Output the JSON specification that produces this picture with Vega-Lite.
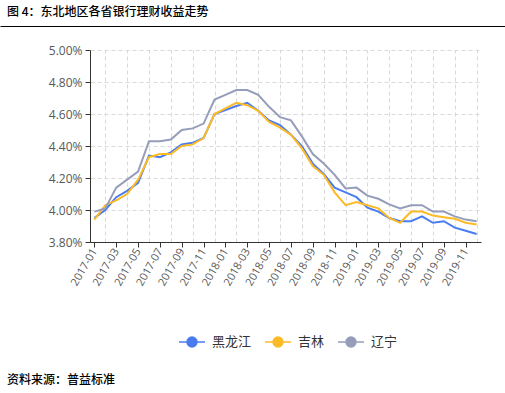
{
  "$schema": "https://vega.github.io/schema/vega-lite/v6.json",
  "background": "white",
  "padding": {"left": 0, "right": 0, "top": 5, "bottom": 0},
  "columns": 1,
  "spacing": 15,
  "resolve": {"scale": {"color": "shared"}},
  "config": {
    "view": {"stroke": null},
    "axis": {"labelFont": "Open Sans", "labelColor": "#595959", "domainColor": "#333333", "tickColor": "#333333", "gridColor": "#d9d9d9", "gridDash": [4, 3], "title": null, "labelOverlap": false},
    "title": {"font": "Noto Sans CJK SC", "fontSize": 12, "color": "#000000", "fontWeight": 500, "anchor": "start", "frame": "group"}
  },
  "concat": [
    {
      "title": {"text": "图 4：东北地区各省银行理财收益走势", "dx": -83, "offset": 4},
      "width": 505,
      "height": 1,
      "data": {"values": [{"v": 0}]},
      "mark": {"type": "point", "opacity": 0},
      "encoding": {
        "x": {"field": "v", "type": "quantitative", "scale": {"domain": [0, 1]},
          "axis": {"orient": "bottom", "position": -90, "labels": false, "ticks": false, "grid": false, "domainColor": "#000000", "domainWidth": 1}}
      }
    },
    {
      "title": {"text": "资料来源：普益标准", "orient": "bottom", "dx": -83, "offset": 88},
      "width": 391,
      "height": 192,
      "data": {"values": [
        {"month": "2017-01", "region": "黑龙江", "value": 3.95}, {"month": "2017-01", "region": "吉林", "value": 3.94}, {"month": "2017-01", "region": "辽宁", "value": 3.99},
        {"month": "2017-02", "region": "黑龙江", "value": 4.00}, {"month": "2017-02", "region": "吉林", "value": 4.03}, {"month": "2017-02", "region": "辽宁", "value": 4.01},
        {"month": "2017-03", "region": "黑龙江", "value": 4.08}, {"month": "2017-03", "region": "吉林", "value": 4.06}, {"month": "2017-03", "region": "辽宁", "value": 4.14},
        {"month": "2017-04", "region": "黑龙江", "value": 4.12}, {"month": "2017-04", "region": "吉林", "value": 4.10}, {"month": "2017-04", "region": "辽宁", "value": 4.19},
        {"month": "2017-05", "region": "黑龙江", "value": 4.17}, {"month": "2017-05", "region": "吉林", "value": 4.19}, {"month": "2017-05", "region": "辽宁", "value": 4.24},
        {"month": "2017-06", "region": "黑龙江", "value": 4.34}, {"month": "2017-06", "region": "吉林", "value": 4.33}, {"month": "2017-06", "region": "辽宁", "value": 4.43},
        {"month": "2017-07", "region": "黑龙江", "value": 4.33}, {"month": "2017-07", "region": "吉林", "value": 4.35}, {"month": "2017-07", "region": "辽宁", "value": 4.43},
        {"month": "2017-08", "region": "黑龙江", "value": 4.36}, {"month": "2017-08", "region": "吉林", "value": 4.35}, {"month": "2017-08", "region": "辽宁", "value": 4.44},
        {"month": "2017-09", "region": "黑龙江", "value": 4.41}, {"month": "2017-09", "region": "吉林", "value": 4.40}, {"month": "2017-09", "region": "辽宁", "value": 4.50},
        {"month": "2017-10", "region": "黑龙江", "value": 4.42}, {"month": "2017-10", "region": "吉林", "value": 4.41}, {"month": "2017-10", "region": "辽宁", "value": 4.51},
        {"month": "2017-11", "region": "黑龙江", "value": 4.45}, {"month": "2017-11", "region": "吉林", "value": 4.45}, {"month": "2017-11", "region": "辽宁", "value": 4.54},
        {"month": "2017-12", "region": "黑龙江", "value": 4.60}, {"month": "2017-12", "region": "吉林", "value": 4.60}, {"month": "2017-12", "region": "辽宁", "value": 4.69},
        {"month": "2018-01", "region": "黑龙江", "value": 4.625}, {"month": "2018-01", "region": "吉林", "value": 4.635}, {"month": "2018-01", "region": "辽宁", "value": 4.72},
        {"month": "2018-02", "region": "黑龙江", "value": 4.65}, {"month": "2018-02", "region": "吉林", "value": 4.67}, {"month": "2018-02", "region": "辽宁", "value": 4.75},
        {"month": "2018-03", "region": "黑龙江", "value": 4.67}, {"month": "2018-03", "region": "吉林", "value": 4.655}, {"month": "2018-03", "region": "辽宁", "value": 4.75},
        {"month": "2018-04", "region": "黑龙江", "value": 4.62}, {"month": "2018-04", "region": "吉林", "value": 4.62}, {"month": "2018-04", "region": "辽宁", "value": 4.72},
        {"month": "2018-05", "region": "黑龙江", "value": 4.56}, {"month": "2018-05", "region": "吉林", "value": 4.55}, {"month": "2018-05", "region": "辽宁", "value": 4.645},
        {"month": "2018-06", "region": "黑龙江", "value": 4.53}, {"month": "2018-06", "region": "吉林", "value": 4.515}, {"month": "2018-06", "region": "辽宁", "value": 4.58},
        {"month": "2018-07", "region": "黑龙江", "value": 4.47}, {"month": "2018-07", "region": "吉林", "value": 4.47}, {"month": "2018-07", "region": "辽宁", "value": 4.56},
        {"month": "2018-08", "region": "黑龙江", "value": 4.40}, {"month": "2018-08", "region": "吉林", "value": 4.385}, {"month": "2018-08", "region": "辽宁", "value": 4.46},
        {"month": "2018-09", "region": "黑龙江", "value": 4.29}, {"month": "2018-09", "region": "吉林", "value": 4.275}, {"month": "2018-09", "region": "辽宁", "value": 4.35},
        {"month": "2018-10", "region": "黑龙江", "value": 4.225}, {"month": "2018-10", "region": "吉林", "value": 4.22}, {"month": "2018-10", "region": "辽宁", "value": 4.29},
        {"month": "2018-11", "region": "黑龙江", "value": 4.14}, {"month": "2018-11", "region": "吉林", "value": 4.11}, {"month": "2018-11", "region": "辽宁", "value": 4.22},
        {"month": "2018-12", "region": "黑龙江", "value": 4.11}, {"month": "2018-12", "region": "吉林", "value": 4.03}, {"month": "2018-12", "region": "辽宁", "value": 4.135},
        {"month": "2019-01", "region": "黑龙江", "value": 4.08}, {"month": "2019-01", "region": "吉林", "value": 4.05}, {"month": "2019-01", "region": "辽宁", "value": 4.14},
        {"month": "2019-02", "region": "黑龙江", "value": 4.015}, {"month": "2019-02", "region": "吉林", "value": 4.03}, {"month": "2019-02", "region": "辽宁", "value": 4.09},
        {"month": "2019-03", "region": "黑龙江", "value": 3.99}, {"month": "2019-03", "region": "吉林", "value": 4.01}, {"month": "2019-03", "region": "辽宁", "value": 4.07},
        {"month": "2019-04", "region": "黑龙江", "value": 3.95}, {"month": "2019-04", "region": "吉林", "value": 3.95}, {"month": "2019-04", "region": "辽宁", "value": 4.035},
        {"month": "2019-05", "region": "黑龙江", "value": 3.93}, {"month": "2019-05", "region": "吉林", "value": 3.92}, {"month": "2019-05", "region": "辽宁", "value": 4.01},
        {"month": "2019-06", "region": "黑龙江", "value": 3.93}, {"month": "2019-06", "region": "吉林", "value": 3.99}, {"month": "2019-06", "region": "辽宁", "value": 4.03},
        {"month": "2019-07", "region": "黑龙江", "value": 3.96}, {"month": "2019-07", "region": "吉林", "value": 3.99}, {"month": "2019-07", "region": "辽宁", "value": 4.03},
        {"month": "2019-08", "region": "黑龙江", "value": 3.92}, {"month": "2019-08", "region": "吉林", "value": 3.965}, {"month": "2019-08", "region": "辽宁", "value": 3.99},
        {"month": "2019-09", "region": "黑龙江", "value": 3.93}, {"month": "2019-09", "region": "吉林", "value": 3.955}, {"month": "2019-09", "region": "辽宁", "value": 3.99},
        {"month": "2019-10", "region": "黑龙江", "value": 3.89}, {"month": "2019-10", "region": "吉林", "value": 3.945}, {"month": "2019-10", "region": "辽宁", "value": 3.96},
        {"month": "2019-11", "region": "黑龙江", "value": 3.87}, {"month": "2019-11", "region": "吉林", "value": 3.92}, {"month": "2019-11", "region": "辽宁", "value": 3.94},
        {"month": "2019-12", "region": "黑龙江", "value": 3.85}, {"month": "2019-12", "region": "吉林", "value": 3.91}, {"month": "2019-12", "region": "辽宁", "value": 3.93}
      ]},
      "resolve": {"axis": {"x": "independent"}},
      "layer": [
        {
          "mark": {"type": "line", "opacity": 0},
          "encoding": {
            "x": {"field": "month", "type": "ordinal", "scale": {"type": "point", "padding": 0.4},
              "axis": {"orient": "top", "values": ["2017-02","2017-04","2017-06","2017-08","2017-10","2017-12","2018-02","2018-04","2018-06","2018-08","2018-10","2018-12","2019-02","2019-04","2019-06","2019-08","2019-10","2019-12"], "grid": true, "labels": false, "ticks": false, "domain": false}},
            "y": {"field": "value", "type": "quantitative", "scale": {"domain": [3.8, 5.0], "nice": false, "zero": false},
              "axis": {"values": [3.8, 4.0, 4.2, 4.4, 4.6, 4.8, 5.0], "labelExpr": "format(datum.value, '.2f') + '%'", "labelFontSize": 12, "tickSize": 5, "labelPadding": 3, "grid": true, "labelOverlap": false}},
            "detail": {"field": "region"}
          }
        },
        {
          "mark": {"type": "line", "strokeWidth": 2},
          "encoding": {
            "x": {"field": "month", "type": "ordinal", "scale": {"type": "point", "padding": 0.4},
              "axis": {"orient": "bottom", "values": ["2017-01","2017-03","2017-05","2017-07","2017-09","2017-11","2018-01","2018-03","2018-05","2018-07","2018-09","2018-11","2019-01","2019-03","2019-05","2019-07","2019-09","2019-11"], "grid": false, "labelAngle": -60, "labelFontSize": 11, "tickSize": 5, "labelPadding": 2}},
            "y": {"field": "value", "type": "quantitative", "scale": {"domain": [3.8, 5.0], "nice": false, "zero": false},
              "axis": {"values": [3.8, 4.0, 4.2, 4.4, 4.6, 4.8, 5.0], "labelExpr": "format(datum.value, '.2f') + '%'", "labelFontSize": 12, "tickSize": 5, "labelPadding": 3, "grid": true, "labelOverlap": false}},
            "color": {"field": "region", "type": "nominal", "scale": {"domain": ["黑龙江", "吉林", "辽宁"], "range": ["#4A7CF0", "#FCBB26", "#959DBA"]},
              "legend": {"orient": "none", "legendX": 88, "legendY": 303, "direction": "horizontal", "title": null, "padding": 0,
                "symbolType": "M-1,0H-0.38M0.38,0H1M0.38,0A0.38,0.38,0,1,1,-0.38,0A0.38,0.38,0,1,1,0.38,0Z",
                "symbolSize": 676, "symbolStrokeWidth": 1.5, "labelFont": "Noto Sans CJK SC", "labelFontSize": 13, "labelColor": "#333333", "labelOffset": 6, "columnPadding": 10,
                "encode": {"symbols": {"update": {"fill": {"scale": "color", "field": "value"}, "fillOpacity": {"value": 1}}}}}}
          }
        }
      ]
    }
  ]
}
